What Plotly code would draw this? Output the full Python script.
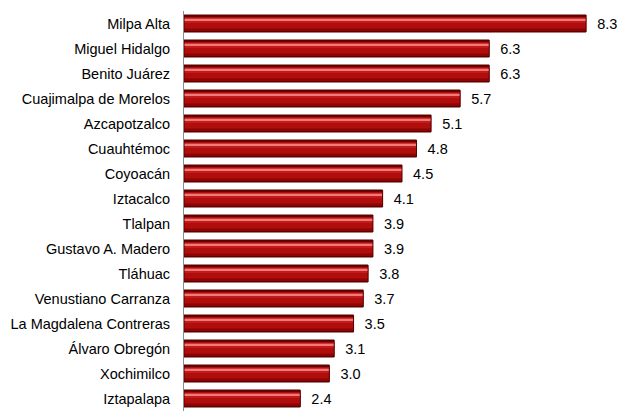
import plotly.graph_objects as go

# delegaciones, ordered bottom -> top so bars stack upward on screen
delegaciones = ['Iztapalapa', 'Xochimilco', 'Álvaro Obregón', 'La Magdalena Contreras',
                'Venustiano Carranza', 'Tláhuac', 'Gustavo A. Madero', 'Tlalpan',
                'Iztacalco', 'Coyoacán', 'Cuauhtémoc', 'Azcapotzalco',
                'Cuajimalpa de Morelos', 'Benito Juárez', 'Miguel Hidalgo', 'Milpa Alta']
valores = [2.4, 3.0, 3.1, 3.5, 3.7, 3.8, 3.9, 3.9, 4.1, 4.5, 4.8, 5.1, 5.7, 6.3, 6.3, 8.3]

# stacked stripes to fake the bevelled 3D look: (offset, width, colour)
capas = [
    (-0.34, 0.68, '#6a0000'),
    (-0.30, 0.56, '#8e0404'),
    (-0.20, 0.40, '#b00d0d'),
    (0.02, 0.22, '#c51a1a'),
    (0.10, 0.10, '#df4a4a'),
    (0.13, 0.04, '#ee7a7a'),
]

fig = go.Figure()
for off, w, col in capas:
    fig.add_trace(go.Bar(x=valores, y=delegaciones, orientation='h', offset=off, width=w,
                         marker=dict(color=col, line_width=0), showlegend=False, hoverinfo='skip'))

# outline + labels
fig.add_trace(go.Bar(x=valores, y=delegaciones, orientation='h', offset=-0.34, width=0.68,
                     marker=dict(color='rgba(0,0,0,0)', line=dict(color='#5a0000', width=1)),
                     text=['  {:.1f}'.format(v) for v in valores], textposition='outside',
                     textfont=dict(family='Liberation Sans, Arial', size=14.5, color='black'),
                     cliponaxis=False, showlegend=False))

# page body has an 8px margin, so the figure is 8px smaller than the window
fig.update_layout(width=618, height=405, barmode='overlay',
                  margin=dict(l=176, r=6, t=3, b=2, autoexpand=False),
                  paper_bgcolor='white', plot_bgcolor='white',
                  font=dict(family='Liberation Sans, Arial', size=14.5, color='black'))
fig.update_xaxes(range=[0, 9], showgrid=False, zeroline=False, showticklabels=False,
                 showline=False, automargin=False)
fig.update_yaxes(showline=True, linewidth=1, linecolor='#8c8c8c', showgrid=False,
                 ticks='', ticklabelstandoff=10, automargin=False)

fig.write_html('out.html')
